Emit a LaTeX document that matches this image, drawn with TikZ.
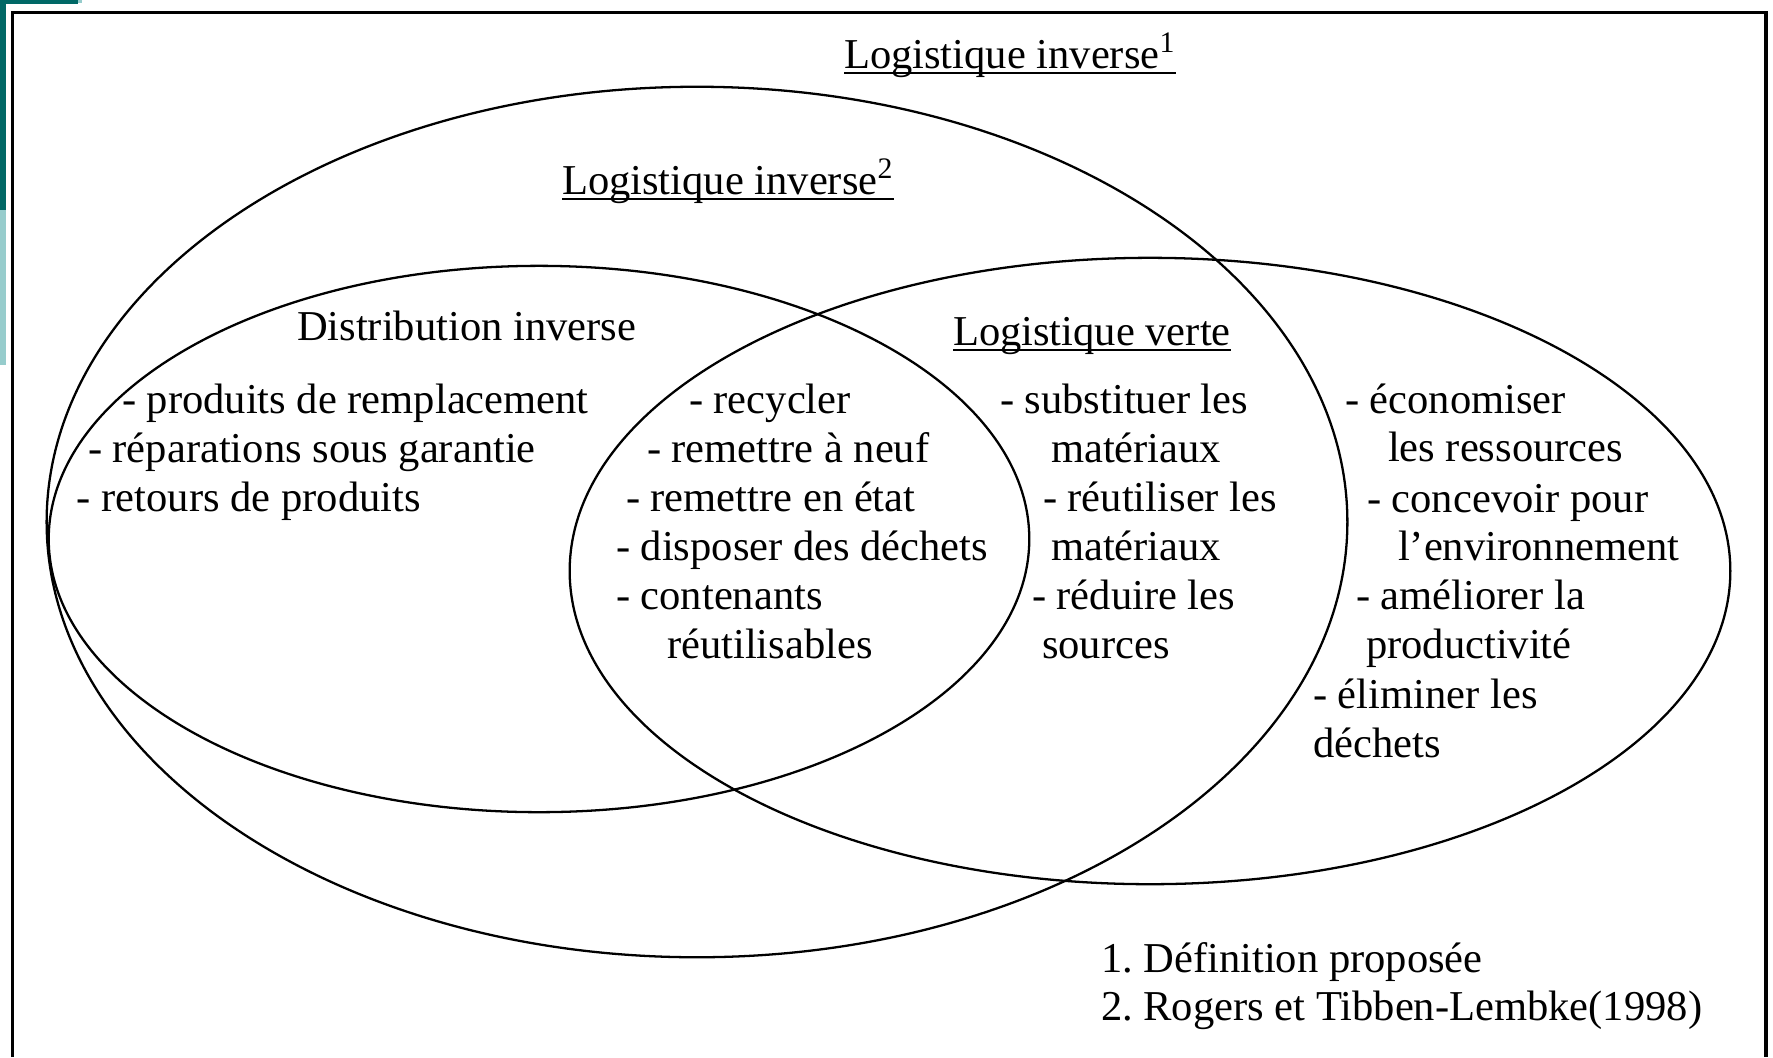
\documentclass[tikz,border=0pt]{standalone}
\usepackage{fontspec}
\setmainfont{Liberation Serif}
\usetikzlibrary{shapes.geometric}
\definecolor{tealdark}{RGB}{0,104,102}
\definecolor{teallight}{RGB}{150,204,204}
\newsavebox\ulbox
\newcommand\myul[1]{\sbox\ulbox{#1}\rlap{\rule[-1.6pt]{\wd\ulbox}{0.6pt}}\usebox\ulbox}
\frenchspacing
\begin{document}
\begin{tikzpicture}[x=0.01cm,y=-0.01cm,
  every node/.style={inner sep=0pt, outer sep=0pt},
  txt/.style={anchor=base west, font=\fontsize{12.1}{14}\selectfont},
  venn/.style={draw, ellipse, line width=0.65pt, inner sep=0pt}]
\useasboundingbox (0,0) rectangle (1773,1057);
% decoration
\fill[tealdark] (0,0) rectangle (6,210);
\fill[tealdark] (0,0) rectangle (78,3.5);
\fill[teallight] (78,0) rectangle (82,3);
\fill[teallight] (0,210) rectangle (6,365);
% frame
\draw[line width=0.9pt] (12.5,1057) -- (12.5,12.5) -- (1766,12.5) -- (1766,1057);
% ellipses
\node[venn, minimum width=13cm, minimum height=8.7cm] (li2) at (697,522) {};
\node[venn, minimum width=9.8cm, minimum height=5.46cm] (di) at (539,539) {};
\node[venn, minimum width=11.6cm, minimum height=6.26cm] (lv) at (1150,571) {};
% headings
\node[txt] (h1) at (844,68) {\myul{Logistique inverse\textsuperscript{1}}};
\node[txt] (h2) at (562,194) {\myul{Logistique inverse\textsuperscript{2}}};
\node[txt] (h3) at (297,340) {Distribution inverse};
\node[txt] (h4) at (953,345) {\myul{Logistique verte}};
% left list
\node[txt] (a1) at (122,413) {- produits de remplacement};
\node[txt] (a2) at (88,462) {- réparations sous garantie};
\node[txt] (a3) at (77,511) {- retours de produits};
% centre list
\node[txt] (b1) at (689,413) {- recycler};
\node[txt] (b2) at (647,462) {- remettre à neuf};
\node[txt] (b3) at (626,511) {- remettre en état};
\node[txt] (b4) at (616,560) {- disposer des déchets};
\node[txt] (b5) at (616,609) {- contenants};
\node[txt] (b6) at (667,658) {réutilisables};
% logistique verte list
\node[txt] (c1) at (1000,413) {- substituer les};
\node[txt] (c2) at (1051,462) {matériaux};
\node[txt] (c3) at (1043,511) {- réutiliser les};
\node[txt] (c4) at (1051,560) {matériaux};
\node[txt] (c5) at (1032,609) {- réduire les};
\node[txt] (c6) at (1042,658) {sources};
% right list
\node[txt] (d1) at (1345,413) {- économiser};
\node[txt] (d2) at (1388,461) {les ressources};
\node[txt] (d3) at (1367,512) {- concevoir pour};
\node[txt] (d4) at (1398,560) {l’environnement};
\node[txt] (d5) at (1356,609) {- améliorer la};
\node[txt] (d6) at (1366,658) {productivité};
\node[txt] (d7) at (1313,708) {- éliminer les};
\node[txt] (d8) at (1313,757) {déchets};
% footnotes
\node[txt] (f1) at (1101,972) {1. Définition proposée};
\node[txt] (f2) at (1101,1020) {2. Rogers et Tibben-Lembke(1998)};
\end{tikzpicture}
\end{document}
